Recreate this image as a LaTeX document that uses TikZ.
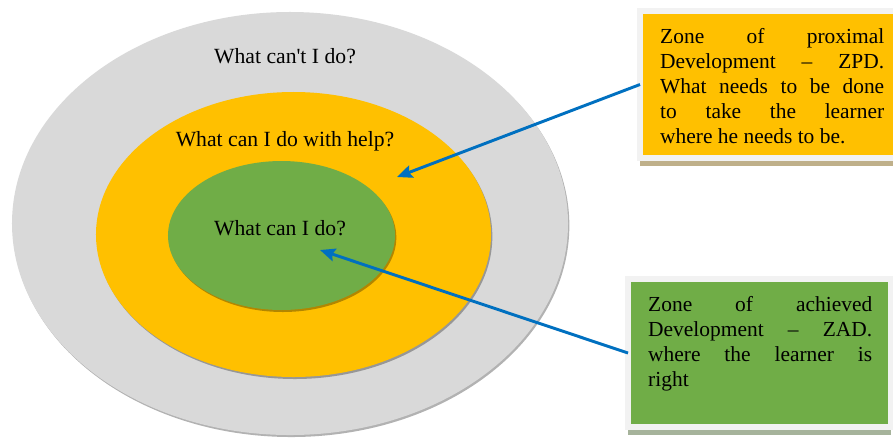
\documentclass[tikz,border=0pt]{standalone}
\usepackage{fontspec}
\setmainfont{Liberation Serif}
\usetikzlibrary{positioning,shapes.geometric,shadows,arrows.meta}
\definecolor{zgray}{HTML}{D9D9D9}
\definecolor{zyellow}{HTML}{FFC000}
\definecolor{zgreen}{HTML}{70AD47}
\definecolor{zblue}{HTML}{0070C0}
\definecolor{zframe}{HTML}{F2F2F2}
\definecolor{ztan}{HTML}{BFB08A}
\definecolor{zsage}{HTML}{A6B39B}

\begin{document}
\begin{tikzpicture}[x=0.03cm, y=-0.03cm,
    zone/.style={draw=none, ellipse, inner sep=0pt,
      drop shadow={shadow xshift=0.04cm, shadow yshift=-0.06cm, fill=black, opacity=0.3}},
    question/.style={font=\fontsize{18.5}{21.3}\selectfont, anchor=base},
    note/.style={rectangle, draw=zframe, line width=0.18cm, outer sep=0pt, inner sep=0pt, anchor=north west},
    notetext/.style={font=\fontsize{18.3}{21.3}\selectfont, text width=6.72cm, align=justify, inner sep=0pt, anchor=north west},
    pointer/.style={draw=zblue, line width=2.5pt, -{Stealth[length=13pt, width=11pt, inset=2pt]}}]
    \useasboundingbox (0,0) rectangle (893,437);

    % nested zones
    \node[zone, fill=zgray, minimum width=16.68cm, minimum height=12.69cm] (cant) at (290,223.5) {};
    \node[zone, fill=zyellow, minimum width=11.85cm, minimum height=8.55cm] (help) at (293.5,234.5) {};
    \node[zone, fill=zgreen, minimum width=6.81cm, minimum height=4.47cm] (can) at (281.5,235.5) {};

    \node[question] (cantq) at (285,63) {What can\textquotesingle t I do?};
    \node[question] (helpq) at (285,146) {What can I do with help?};
    \node[question] (canq) at (280,235) {What can I do?};

    % notes
    \node[note, fill=zyellow, minimum width=7.95cm, minimum height=4.41cm,
      drop shadow={fill=ztan, opacity=1, shadow xshift=0pt, shadow yshift=-0.24cm}] (zpd) at (640,11) {};
    \node[notetext] (zpdtext) at ([shift={(20,17)}]zpd.north west)
      {Zone of proximal\linebreak Development – ZPD.\linebreak What needs to be done\linebreak to take the learner\linebreak where he needs to be.};

    \node[note, fill=zgreen, minimum width=7.875cm, minimum height=4.44cm,
      drop shadow={fill=zsage, opacity=1, shadow xshift=0pt, shadow yshift=-0.24cm}] (zad) at (628,279) {};
    \node[notetext] (zadtext) at ([shift={(20,17)}]zad.north west)
      {Zone of achieved\linebreak Development – ZAD.\linebreak where the learner is\linebreak right};

    \coordinate (zpdtip) at (397,177);
    \coordinate (zadtip) at (320,250);
    \draw[pointer] (zpd.west) -- (zpdtip);
    \draw[pointer] (zad.west) -- (zadtip);
\end{tikzpicture}
\end{document}
